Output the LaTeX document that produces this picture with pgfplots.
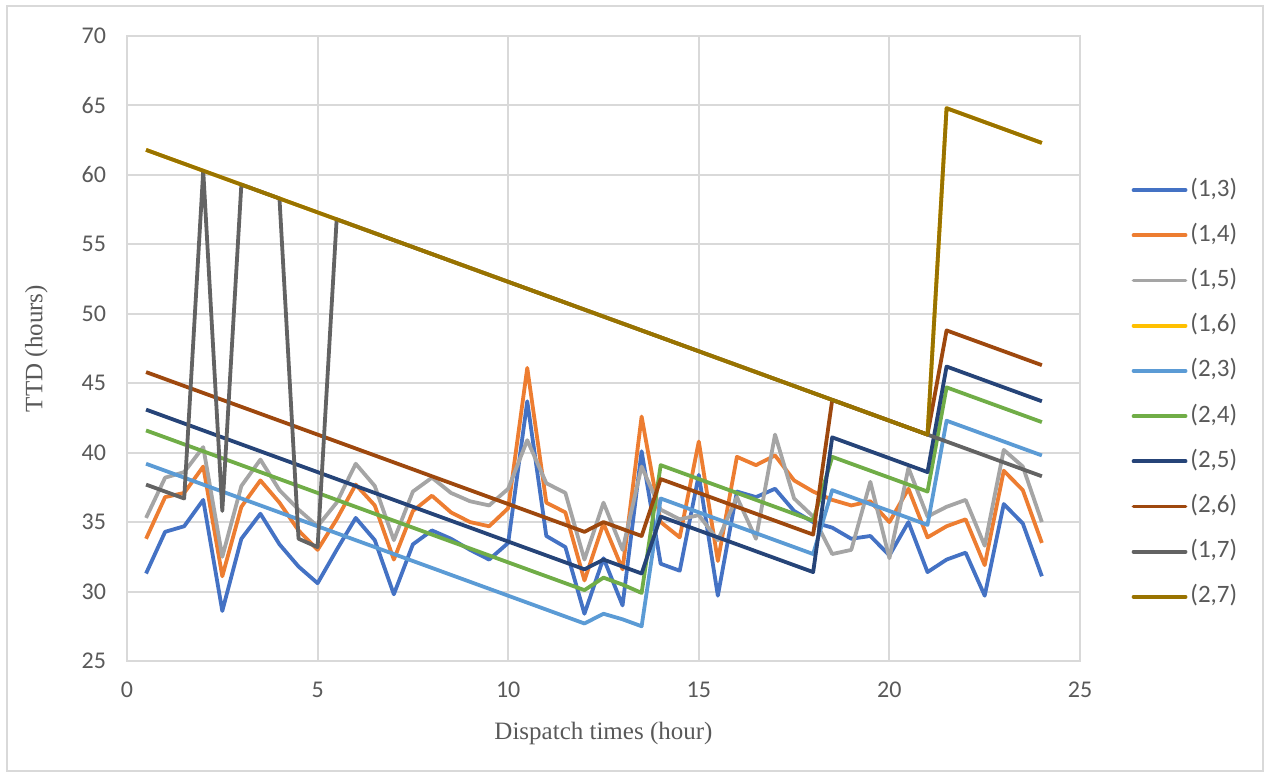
\documentclass[border=0pt]{standalone}
\usepackage{pgfplots}
\pgfplotsset{compat=1.18}
\usepackage{pgfplotstable}
\usepackage{fontspec}
\setmainfont{Carlito}
\newfontfamily\titlefont{Liberation Serif}
\definecolor{c13}{HTML}{4472C4}
\definecolor{c14}{HTML}{ED7D31}
\definecolor{c15}{HTML}{A5A5A5}
\definecolor{c16}{HTML}{FFC000}
\definecolor{c23}{HTML}{5B9BD5}
\definecolor{c24}{HTML}{70AD47}
\definecolor{c25}{HTML}{264478}
\definecolor{c26}{HTML}{9E480E}
\definecolor{c17}{HTML}{636363}
\definecolor{c27}{HTML}{997300}
\definecolor{gridc}{HTML}{D9D9D9}
\definecolor{txtc}{HTML}{595959}
\pgfplotstableread{
x    a13  a14  a15  a16  a23  a24  a25  a26  a17  a27
0.5  31.3 33.8 35.3 61.8 39.2 41.6 43.1 45.8 37.7 61.8
1.0  34.3 36.8 38.2 61.3 38.7 41.1 42.6 45.3 37.2 61.3
1.5  34.7 37.1 38.6 60.8 38.2 40.6 42.1 44.8 36.7 60.8
2.0  36.6 39.0 40.4 60.3 37.7 40.1 41.6 44.3 60.3 60.3
2.5  28.6 31.1 32.5 59.8 37.2 39.6 41.1 43.8 35.8 59.8
3.0  33.8 36.1 37.6 59.3 36.7 39.1 40.6 43.3 59.3 59.3
3.5  35.6 38.0 39.5 58.8 36.2 38.6 40.1 42.8 58.8 58.8
4.0  33.4 36.4 37.3 58.3 35.7 38.1 39.6 42.3 58.3 58.3
4.5  31.8 34.4 35.9 57.8 35.2 37.6 39.1 41.8 33.8 57.8
5.0  30.6 33.0 34.7 57.3 34.7 37.1 38.6 41.3 33.2 57.3
5.5  33.0 35.2 36.4 56.8 34.2 36.6 38.1 40.8 56.8 56.8
6.0  35.3 37.7 39.2 56.3 33.7 36.1 37.6 40.3 56.3 56.3
6.5  33.7 36.2 37.6 55.8 33.2 35.6 37.1 39.8 55.8 55.8
7.0  29.8 32.3 33.7 55.3 32.7 35.1 36.6 39.3 55.3 55.3
7.5  33.4 35.8 37.2 54.8 32.2 34.6 36.1 38.8 54.8 54.8
8.0  34.4 36.9 38.2 54.3 31.7 34.1 35.6 38.3 54.3 54.3
8.5  33.8 35.7 37.1 53.8 31.2 33.6 35.1 37.8 53.8 53.8
9.0  33.0 35.0 36.5 53.3 30.7 33.1 34.6 37.3 53.3 53.3
9.5  32.3 34.7 36.2 52.8 30.2 32.6 34.1 36.8 52.8 52.8
10.0 33.5 36.0 37.4 52.3 29.7 32.1 33.6 36.3 52.3 52.3
10.5 43.7 46.1 40.9 51.8 29.2 31.6 33.1 35.8 51.8 51.8
11.0 34.0 36.4 37.8 51.3 28.7 31.1 32.6 35.3 51.3 51.3
11.5 33.2 35.7 37.1 50.8 28.2 30.6 32.1 34.8 50.8 50.8
12.0 28.4 30.8 32.3 50.3 27.7 30.1 31.6 34.3 50.3 50.3
12.5 32.4 34.9 36.4 49.8 28.4 31.0 32.3 35.0 49.8 49.8
13.0 29.0 31.6 33.0 49.3 28.0 30.5 31.8 34.5 49.3 49.3
13.5 40.1 42.6 39.0 48.8 27.5 29.9 31.3 34.0 48.8 48.8
14.0 32.0 35.0 35.9 48.3 36.7 39.1 35.4 38.1 48.3 48.3
14.5 31.5 33.9 35.2 47.8 36.2 38.6 34.9 37.6 47.8 47.8
15.0 38.4 40.8 35.5 47.3 35.7 38.1 34.4 37.1 47.3 47.3
15.5 29.7 32.2 33.7 46.8 35.2 37.6 33.9 36.6 46.8 46.8
16.0 37.2 39.7 36.8 46.3 34.7 37.1 33.4 36.1 46.3 46.3
16.5 36.8 39.1 33.8 45.8 34.2 36.6 32.9 35.6 45.8 45.8
17.0 37.4 39.8 41.3 45.3 33.7 36.1 32.4 35.1 45.3 45.3
17.5 35.8 38.0 36.7 44.8 33.2 35.6 31.9 34.6 44.8 44.8
18.0 35.0 37.2 35.4 44.3 32.7 35.1 31.4 34.1 44.3 44.3
18.5 34.6 36.6 32.7 43.8 37.3 39.7 41.1 43.8 43.8 43.8
19.0 33.8 36.2 33.0 43.3 36.8 39.2 40.6 43.3 43.3 43.3
19.5 34.0 36.5 37.9 42.8 36.3 38.7 40.1 42.8 42.8 42.8
20.0 32.6 35.0 32.4 42.3 35.8 38.2 39.6 42.3 42.3 42.3
20.5 35.0 37.4 38.9 41.8 35.3 37.7 39.1 41.8 41.8 41.8
21.0 31.4 33.9 35.4 41.3 34.8 37.2 38.6 41.3 41.3 41.3
21.5 32.3 34.7 36.1 64.8 42.3 44.7 46.2 48.8 40.8 64.8
22.0 32.8 35.2 36.6 64.3 41.8 44.2 45.7 48.3 40.3 64.3
22.5 29.7 31.9 33.3 63.8 41.3 43.7 45.2 47.8 39.8 63.8
23.0 36.3 38.7 40.2 63.3 40.8 43.2 44.7 47.3 39.3 63.3
23.5 34.9 37.3 39.0 62.8 40.3 42.7 44.2 46.8 38.8 62.8
24.0 31.1 33.5 35.0 62.3 39.8 42.2 43.7 46.3 38.3 62.3
}\ttd
\begin{document}
\begin{tikzpicture}
\path (-63.5pt,-56.5pt) rectangle (569.5pt,330.5pt);
\draw[gridc, line width=0.75pt] (-60pt,-55pt) rectangle (568pt,327.5pt);
\begin{axis}[
  at={(0pt,0pt)}, anchor=south west,
  scale only axis, width=476.5pt, height=312.5pt,
  xmin=0, xmax=25, ymin=25, ymax=70,
  xtick={0,5,...,25}, ytick={25,30,...,70},
  grid=major, major grid style={draw=gridc, line width=1pt},
  axis line style={draw=gridc, line width=1pt},
  major tick length=0pt,
  /pgf/number format/assume math mode=true,
  tick label style={font=\fontsize{12}{14}\selectfont, text=txtc},
  xticklabel style={yshift=-7pt},
  yticklabel style={xshift=-7pt},
  xlabel={Dispatch times (hour)}, ylabel={TTD (hours)},
  label style={font=\titlefont\fontsize{12.5}{15}\selectfont, text=txtc},
  xlabel style={at={(axis description cs:0.5,-0.116)}, anchor=center},
  ylabel style={at={(axis description cs:-0.095,0.5)}, anchor=center},
  legend style={at={(1.0475,0.428)}, anchor=west, draw=none, fill=none,
    font=\fontsize{12.5}{14}\selectfont, text=txtc,
    nodes={inner sep=0pt, text height=9pt, text depth=3pt},
    row sep=10.6pt, column sep=1.5pt},
  legend cell align=left,
  legend image code/.code={\draw[#1, line cap=round] (1pt,0pt) -- (27pt,0pt);},
  every axis plot/.append style={line width=1.9pt, line join=round, no markers},
]
\addplot[c13] table[x=x, y=a13] {\ttd}; \addlegendentry{(1,3)}
\addplot[c14] table[x=x, y=a14] {\ttd}; \addlegendentry{(1,4)}
\addplot[c15] table[x=x, y=a15] {\ttd}; \addlegendentry{(1,5)}
\addplot[c16] table[x=x, y=a16] {\ttd}; \addlegendentry{(1,6)}
\addplot[c23] table[x=x, y=a23] {\ttd}; \addlegendentry{(2,3)}
\addplot[c24] table[x=x, y=a24] {\ttd}; \addlegendentry{(2,4)}
\addplot[c25] table[x=x, y=a25] {\ttd}; \addlegendentry{(2,5)}
\addplot[c26] table[x=x, y=a26] {\ttd}; \addlegendentry{(2,6)}
\addplot[c17] table[x=x, y=a17] {\ttd}; \addlegendentry{(1,7)}
\addplot[c27] table[x=x, y=a27] {\ttd}; \addlegendentry{(2,7)}
\end{axis}
\end{tikzpicture}
\end{document}
